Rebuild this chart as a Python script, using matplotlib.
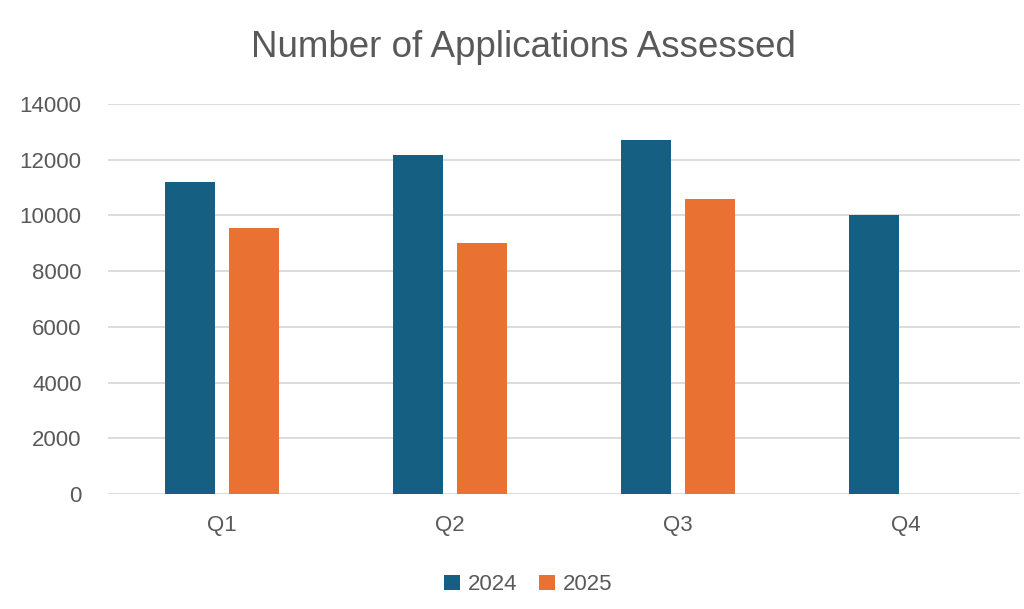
import numpy as np
import matplotlib.pyplot as plt

# Chart data
quarters = ['Q1', 'Q2', 'Q3', 'Q4']
apps_2024 = [11200, 12170, 12700, 10000]
apps_2025 = [9550, 9000, 10590, np.nan]
yticks = [0, 2000, 4000, 6000, 8000, 10000, 12000, 14000]

blue = '#156082'
orange = '#E97132'
grey = '#595959'

plt.rcParams['font.family'] = ['Liberation Sans', 'DejaVu Sans']

fig = plt.figure(figsize=(10.24, 6.09), dpi=100)
ax = fig.add_axes([0.1055, 0.189, 0.8906, 0.640])

x = np.arange(len(quarters))
w = 0.219
off = 0.141
ax.bar(x - off, apps_2024, width=w, color=blue, label='2024', zorder=3)
ax.bar(x + off, apps_2025, width=w, color=orange, label='2025', zorder=3)

ax.set_xlim(-0.5, len(quarters) - 0.5)
ax.set_ylim(0, 14000)
ax.set_yticks(yticks)
ax.set_yticklabels([str(t) for t in yticks])
ax.set_xticks(x)
ax.set_xticklabels(quarters)
ax.grid(axis='y', color='#d9d9d9', linewidth=1.3, zorder=0)
ax.tick_params(axis='both', length=0, labelsize=16, colors=grey)
ax.tick_params(axis='x', pad=15)
ax.tick_params(axis='y', pad=19)
for s in ax.spines.values():
    s.set_visible(False)

fig.text(0.511, 0.922, 'Number of Applications Assessed', ha='center', va='center',
         fontsize=26.5, color=grey)

fig.legend(loc='center', bbox_to_anchor=(0.516, 0.040), ncol=2, frameon=False,
           fontsize=16, labelcolor=grey, handlelength=0.7, handleheight=0.7,
           handletextpad=0.35, columnspacing=1.0)

fig.savefig('out.png', dpi=100)
